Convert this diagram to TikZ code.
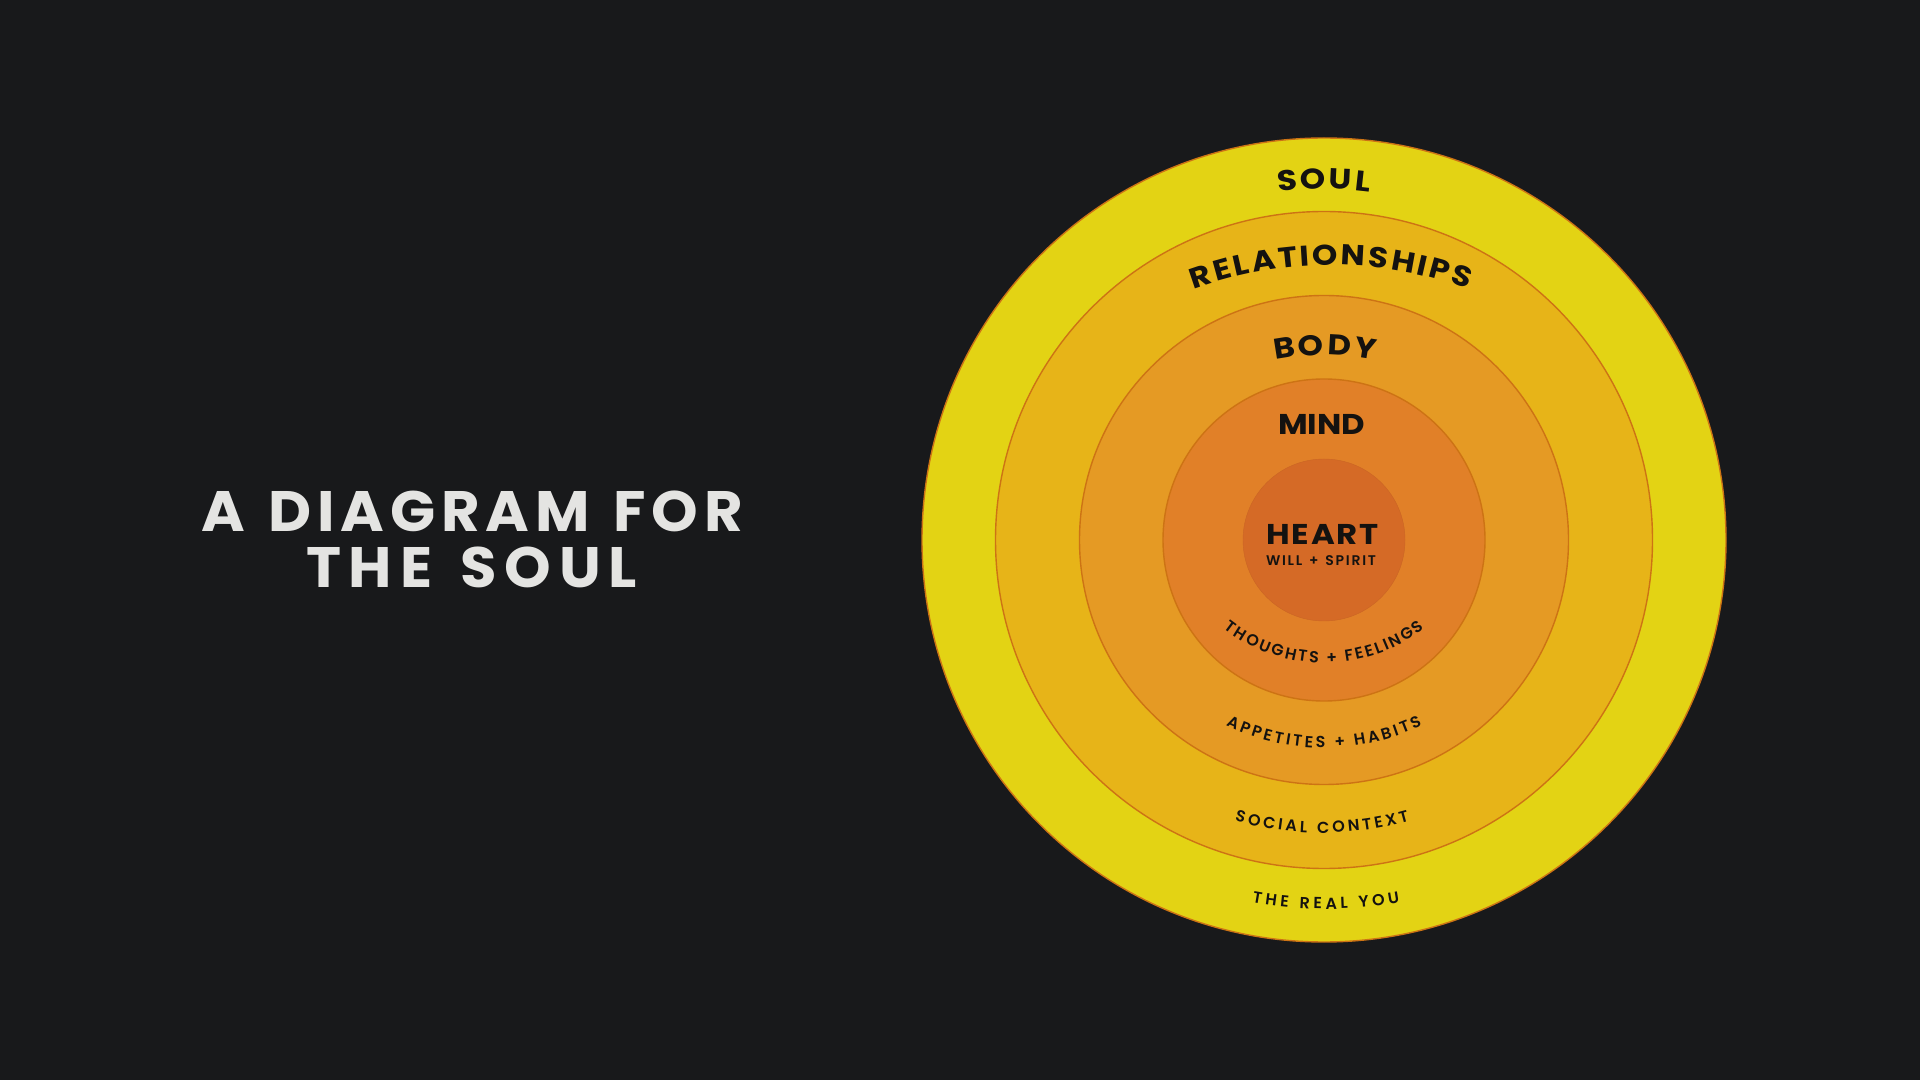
\documentclass[tikz,border=0pt]{standalone}
\usepackage{fontspec}
\newfontfamily\lblfont{Poppins}[FakeStretch=1.13]
\newfontfamily\smlfont{Poppins SemiBold}
\newfontfamily\ttlfont{Poppins}[FakeStretch=1.04]
\usetikzlibrary{decorations.text}
\definecolor{bg}{HTML}{18191B}
\definecolor{ringA}{RGB}{227,211,20}
\definecolor{ringB}{RGB}{231,180,24}
\definecolor{ringC}{RGB}{229,154,36}
\definecolor{ringD}{RGB}{225,128,40}
\definecolor{ringE}{RGB}{213,106,38}
\definecolor{rim}{RGB}{205,115,20}
\definecolor{ink}{RGB}{20,18,16}
\definecolor{titlec}{RGB}{228,228,226}
\newcommand\bigf{\lblfont\bfseries\fontsize{28.6}{32}\selectfont}
\newcommand\smallf{\smlfont\fontsize{16}{18}\selectfont}
\newcommand\tinyf{\smlfont\fontsize{14}{16}\selectfont}
\newcommand\titlef{\ttlfont\bfseries\fontsize{57}{60}\selectfont}
\tikzset{
  ring/.style={circle, inner sep=0pt, draw=rim, line width=1.4pt},
  arclabel/.style={decorate, decoration={text along path, text align=fit to path, text color=ink, text={#1}}},
  titlelabel/.style={decorate, decoration={text along path, text align=fit to path, text color=titlec, text={#1}}}
}
\begin{document}
\begin{tikzpicture}[x=1pt,y=1pt]
\fill[bg] (0,0) rectangle (1920,1080);
\useasboundingbox (0,0) rectangle (1920,1080);
\coordinate (c) at (1324,540);
% rings
\node[ring, fill=ringA, minimum size=804] (soul) at (c) {};
\node[ring, fill=ringB, minimum size=657] (rel) at (c) {};
\node[ring, fill=ringC, minimum size=489] (body) at (c) {};
\node[ring, fill=ringD, minimum size=322] (mind) at (c) {};
\node[circle, inner sep=0pt, fill=ringE, draw=ringE!95!black, line width=0.4pt, minimum size=162] (heart) at (c) {};
% top labels
\path[arclabel={|\bigf|SOUL}] (1324,540) ++(97.5:351) arc[start angle=97.5, end angle=82.5, radius=351];
\path[arclabel={|\bigf|RELATIONSHIPS}] (1331,415) ++(110.1:400) arc[start angle=110.1, end angle=69.9, radius=400];
\path[arclabel={|\bigf|BODY}] (1325,475) ++(101.5:250) arc[start angle=101.5, end angle=78.5, radius=250];
\coordinate (mindL) at (1278,645);
\coordinate (mindR) at (1365,645);
\path[arclabel={|\bigf|MIND}] (mindL) -- (mindR);
\coordinate (heartL) at (1266,535);
\coordinate (heartR) at (1379,535);
\path[arclabel={|\bigf|HEART}] (heartL) -- (heartR);
\coordinate (willL) at (1266,514);
\coordinate (willR) at (1376,514);
\path[arclabel={|\tinyf|WILL + SPIRIT}] (willL) -- (willR);
% bottom labels
\path[arclabel={|\smallf|THOUGHTS + FEELINGS}] (1324,580) ++(232:163) arc[start angle=232, end angle=308, radius=163];
\path[arclabel={|\smallf|APPETITES + HABITS}] (1324,556) ++(244:224) arc[start angle=244, end angle=296, radius=224];
\path[arclabel={|\smallf|SOCIAL CONTEXT}] (1322,564) ++(254:317) arc[start angle=254, end angle=286, radius=317];
\path[arclabel={|\smallf|THE REAL YOU}] (1326,588) ++(259.8:417) arc[start angle=259.8, end angle=280.2, radius=417];
% title
\coordinate (t1L) at (201,548);
\coordinate (t1R) at (743,548);
\coordinate (t2L) at (306,492);
\coordinate (t2R) at (637,492);
\path[titlelabel={|\titlef|A DIAGRAM FOR}] (t1L) -- (t1R);
\path[titlelabel={|\titlef|THE SOUL}] (t2L) -- (t2R);
\end{tikzpicture}
\end{document}
